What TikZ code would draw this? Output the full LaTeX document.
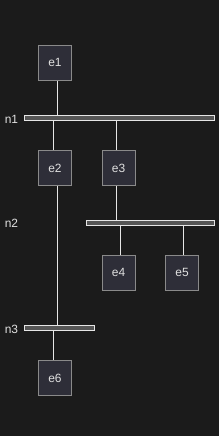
\documentclass[tikz,border=0pt]{standalone}
\usepackage{fontspec}
\setmainfont{Liberation Sans}
\definecolor{bg}{HTML}{1B1B1B}
\definecolor{boxfill}{HTML}{2E2E38}
\definecolor{boxline}{HTML}{8A8A8A}
\definecolor{txt}{HTML}{E0E0E0}
\definecolor{barfill}{HTML}{555555}
\definecolor{wire}{HTML}{E6E6E6}
\begin{document}
\begin{tikzpicture}[x=1bp,y=-1bp,
  ebox/.style={draw=boxline,fill=boxfill,line width=0.9bp,minimum width=33bp,minimum height=35bp,inner sep=0pt,text=txt,font=\fontsize{12}{14}\selectfont},
  bar/.style={draw=wire,fill=barfill,line width=0.9bp,inner sep=0pt,anchor=north west},
  lbl/.style={text=txt,font=\fontsize{12}{14}\selectfont,inner sep=0pt},
  wireln/.style={draw=wire,line width=0.8bp}]
\fill[bg] (0,0) rectangle (219,436);
\useasboundingbox (0,0) rectangle (219,436);
% boxes
\node[ebox] (e1) at (55,62.8) {e1};
\node[ebox] (e2) at (55,168) {e2};
\node[ebox] (e3) at (118.5,168) {e3};
\node[ebox] (e4) at (118.5,272.8) {e4};
\node[ebox] (e5) at (182,272.8) {e5};
\node[ebox] (e6) at (55,378) {e6};
% bars
\node[bar,minimum width=190bp,minimum height=5bp] (n1) at (23.5,115.5) {};
\node[bar,minimum width=127.4bp,minimum height=5bp] (n2) at (86.3,220.3) {};
\node[bar,minimum width=70.4bp,minimum height=5bp] (n3) at (23.5,325.3) {};
% labels
\node[lbl] (l1) at (11.5,119) {n1};
\node[lbl] (l2) at (11.5,223.5) {n2};
\node[lbl] (l3) at (11.5,329) {n3};
% x positions of wires
\coordinate (xa) at (57.7,0);
\coordinate (xb) at (53.3,0);
\coordinate (xc) at (116.3,0);
\coordinate (xd) at (120.3,0);
\coordinate (xe) at (183.3,0);
% connectors
\draw[wireln] (e1.south -| xa) -- (xa |- n1.north);
\draw[wireln] (n1.south -| xb) -- (xb |- e2.north);
\draw[wireln] (n1.south -| xc) -- (xc |- e3.north);
\draw[wireln] (e3.south -| xc) -- (xc |- n2.north);
\draw[wireln] (n2.south -| xd) -- (xd |- e4.north);
\draw[wireln] (n2.south -| xe) -- (xe |- e5.north);
\draw[wireln] (e2.south -| xa) -- (xa |- n3.north);
\draw[wireln] (n3.south -| xb) -- (xb |- e6.north);
\end{tikzpicture}
\end{document}
